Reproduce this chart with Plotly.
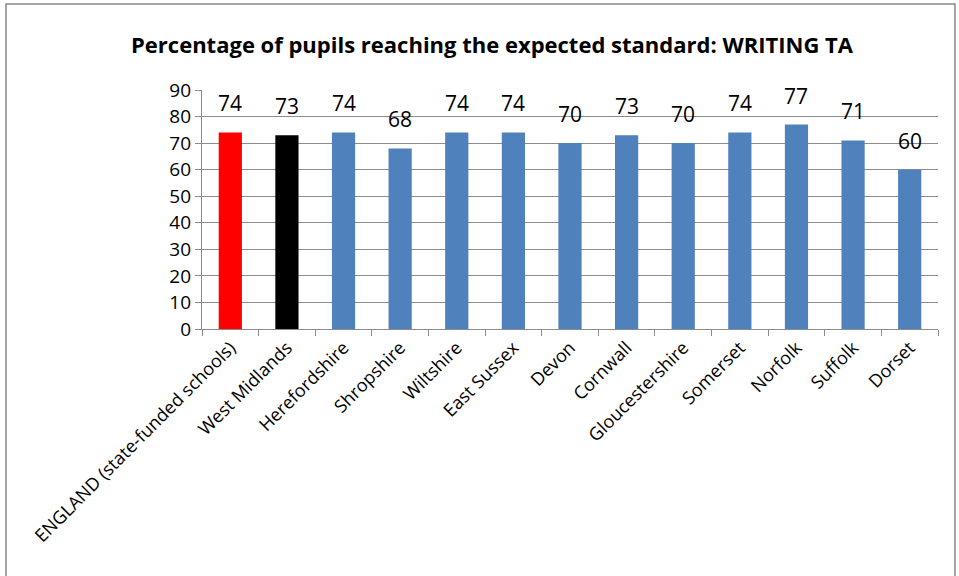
import plotly.graph_objects as go

categories = ["ENGLAND (state-funded schools)", "West Midlands", "Herefordshire", "Shropshire",
              "Wiltshire", "East Sussex", "Devon", "Cornwall", "Gloucestershire", "Somerset",
              "Norfolk", "Suffolk", "Dorset"]
values = [74, 73, 74, 68, 74, 74, 70, 73, 70, 74, 77, 71, 60]
colors = ["#FF0000", "#000000"] + ["#4F81BD"] * 11
y_ticks = [0, 10, 20, 30, 40, 50, 60, 70, 80, 90]

L, R, T, B = 202, 21, 90, 247
W, H = 959, 576
pw, ph = W - L - R, H - T - B

fig = go.Figure(go.Bar(
    x=categories, y=values, marker=dict(color=colors, line=dict(width=0)),
    cliponaxis=False,
))

for c, v in zip(categories, values):
    fig.add_annotation(x=c, y=v, text=str(v), showarrow=False, yanchor="bottom",
                       yshift=13, font=dict(size=21, color="#000000", family="Open Sans"))

def px_to_paper_x(px):
    return (px - L) / pw

def px_to_paper_y(py):
    return (H - B - py) / ph

fig.add_shape(type="rect", xref="paper", yref="paper",
              x0=px_to_paper_x(6), x1=px_to_paper_x(955),
              y0=px_to_paper_y(600), y1=px_to_paper_y(4),
              line=dict(color="#888888", width=1.5), fillcolor="rgba(0,0,0,0)", layer="below")

fig.update_layout(
    width=W, height=H, margin=dict(l=L, r=R, t=T, b=B),
    paper_bgcolor="white", plot_bgcolor="white",
    bargap=0.59, showlegend=False,
    title=dict(text="<b>Percentage of pupils reaching the expected standard: WRITING TA</b>",
               x=(492) / W, xanchor="center", y=1 - 45 / H, yanchor="middle",
               font=dict(size=22, color="#000000", family="Open Sans")),
    font=dict(family="Open Sans", color="#000000"),
)
fig.update_yaxes(range=[0, 90], tickvals=y_ticks, showgrid=True, gridcolor="#8C8C8C", gridwidth=1.3,
                 showline=True, linecolor="#8C8C8C", linewidth=1.3, ticks="outside", ticklen=6,
                 tickcolor="#8C8C8C", tickfont=dict(size=19, color="#000000"), zeroline=False)
fig.update_xaxes(tickangle=-45, showline=True, linecolor="#8C8C8C", linewidth=1.3,
                 ticks="outside", ticklen=6, tickcolor="#8C8C8C", tickson="boundaries",
                 tickfont=dict(size=18, color="#000000"))

fig.write_html("out.html")
